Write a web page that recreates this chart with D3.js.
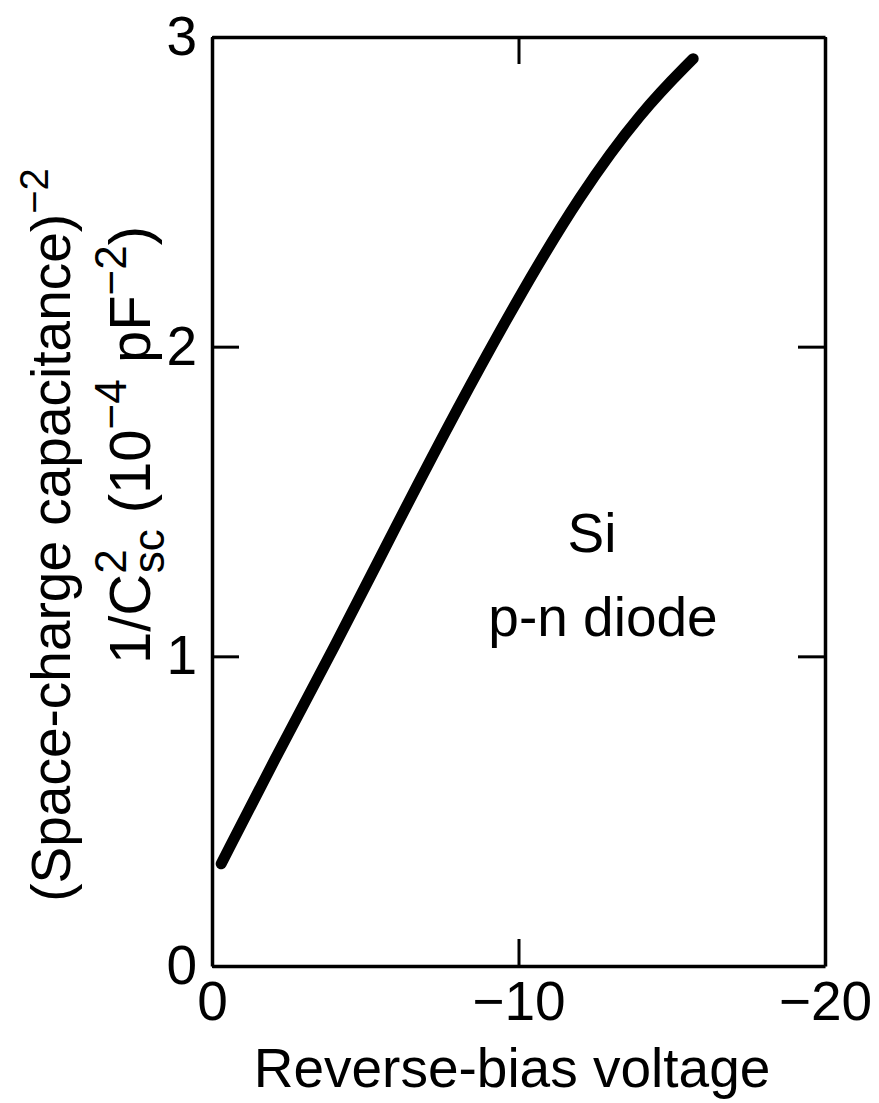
<!DOCTYPE html>
<html>
<head>
<meta charset="utf-8">
<script src="https://cdn.jsdelivr.net/npm/d3@7"></script>
<style>
	body { margin: 0; background: #fff; }
	text { font-family: "Liberation Sans", Arial, sans-serif; fill: #000; }
</style>
</head>
<body>
<div id="chart"></div>
<script>
// reverse-bias voltage (V) and 1/Csc^2 (10^-4 pF^-2)
var voltage = [-0.3, -2, -4, -6, -8, -10, -12, -14, -15.7];
var inv_cap_sq = [0.33, 0.66, 1.03, 1.42, 1.8, 2.16, 2.49, 2.76, 2.93];

var x_ticks = [0, -10, -20];
var x_tick_labels = ['0', '\u221210', '\u221220'];
var y_ticks = [0, 1, 2, 3];
var y_tick_labels = ['0', '1', '2', '3'];

var width = 879,
	height = 1103,
	left = 212,
	right = 825,
	top_ = 37,
	bottom = 966,
	tick_len = 27;

var svg = d3.select('#chart')
	.append('svg')
	.attr('width', width)
	.attr('height', height);

var x = d3.scaleLinear().domain([0, -20]).range([left, right]);
var y = d3.scaleLinear().domain([0, 3]).range([bottom, top_]);

function style_axis(g) {
	g.select('.domain').attr('stroke', '#000').attr('stroke-width', 3.5);
	g.selectAll('.tick line').attr('stroke', '#000').attr('stroke-width', 3);
	g.selectAll('.tick text').style('font-size', '55px');
}

// bottom
svg.append('g')
	.attr('transform', 'translate(0,' + bottom + ')')
	.call(d3.axisBottom(x).tickValues(x_ticks)
		.tickFormat(function(d, i) { return x_tick_labels[i]; })
		.tickSizeInner(-tick_len).tickSizeOuter(0).tickPadding(15))
	.call(style_axis);

// top
svg.append('g')
	.attr('transform', 'translate(0,' + top_ + ')')
	.call(d3.axisTop(x).tickValues(x_ticks).tickFormat('')
		.tickSizeInner(-tick_len).tickSizeOuter(0))
	.call(style_axis);

// left
svg.append('g')
	.attr('transform', 'translate(' + left + ',0)')
	.call(d3.axisLeft(y).tickValues(y_ticks)
		.tickFormat(function(d, i) { return y_tick_labels[i]; })
		.tickSizeInner(-tick_len).tickSizeOuter(0).tickPadding(15))
	.call(style_axis);

// right
svg.append('g')
	.attr('transform', 'translate(' + right + ',0)')
	.call(d3.axisRight(y).tickValues(y_ticks).tickFormat('')
		.tickSizeInner(-tick_len).tickSizeOuter(0))
	.call(style_axis);

svg.selectAll('.tick text').attr('font-family', null);

// the curve
var points = voltage.map(function(v, i) { return [v, inv_cap_sq[i]]; });

svg.append('path')
	.datum(points)
	.attr('fill', 'none')
	.attr('stroke', '#000')
	.attr('stroke-width', 11)
	.attr('stroke-linecap', 'round')
	.attr('d', d3.line()
		.x(function(d) { return x(d[0]); })
		.y(function(d) { return y(d[1]); })
		.curve(d3.curveBasis));

// labels inside the plot
svg.append('text')
	.attr('x', 592).attr('y', 552)
	.attr('text-anchor', 'middle')
	.style('font-size', '55px')
	.text('Si');

svg.append('text')
	.attr('x', 603).attr('y', 636)
	.attr('text-anchor', 'middle')
	.style('font-size', '55px')
	.text('p-n diode');

// x title
svg.append('text')
	.attr('x', 512).attr('y', 1087)
	.attr('text-anchor', 'middle')
	.style('font-size', '55px')
	.text('Reverse-bias voltage');

// y title, two lines
var t1 = svg.append('text')
	.attr('transform', 'translate(70,535) rotate(-90)')
	.attr('text-anchor', 'middle')
	.style('font-size', '55px');
t1.append('tspan').text('(Space-charge capacitance)');
t1.append('tspan').attr('dy', -22).style('font-size', '40px').text('\u22122');

var t2 = svg.append('text')
	.attr('transform', 'translate(150,445) rotate(-90)')
	.attr('text-anchor', 'middle')
	.style('font-size', '58px');
t2.append('tspan').text('1/C');
t2.append('tspan').attr('dy', -24).style('font-size', '44px').text('2');
t2.append('tspan').attr('dx', -24).attr('dy', 38).style('font-size', '44px').text('sc');
t2.append('tspan').attr('dy', -14).text(' (10');
t2.append('tspan').attr('dy', -24).style('font-size', '44px').text('\u22124');
t2.append('tspan').attr('dy', 24).text(' pF');
t2.append('tspan').attr('dy', -24).style('font-size', '44px').text('\u22122');
t2.append('tspan').attr('dy', 24).text(')');
</script>
</body>
</html>
